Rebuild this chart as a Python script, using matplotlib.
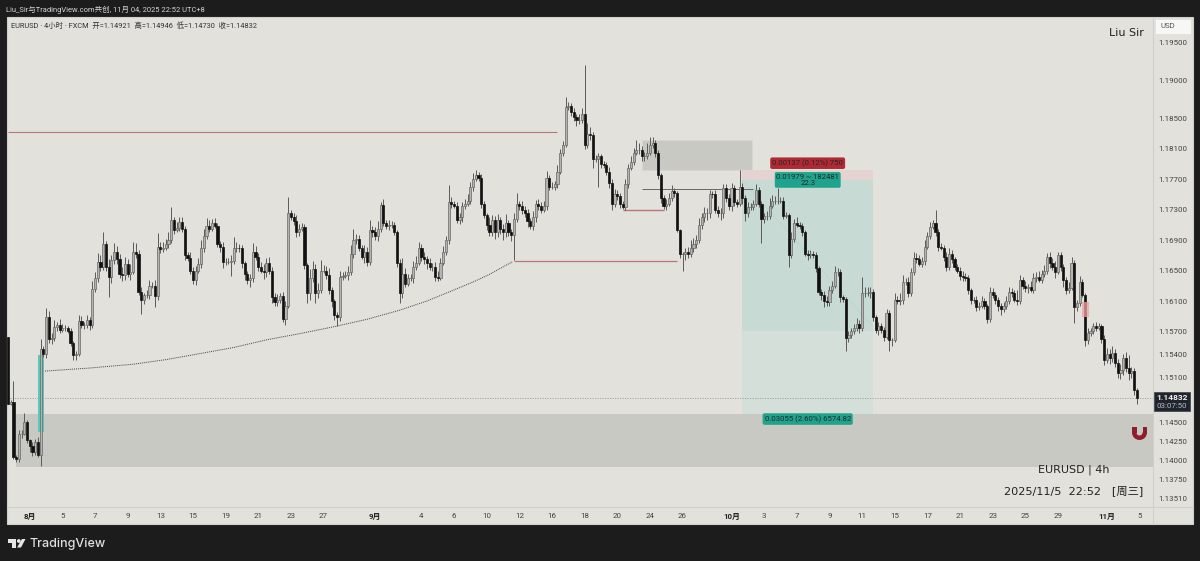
import numpy as np
import matplotlib
matplotlib.use("Agg")
import matplotlib.pyplot as plt
from matplotlib.patches import Rectangle, Polygon, Circle, Wedge
from matplotlib.transforms import IdentityTransform

plt.rcParams['font.family'] = ['Roboto', 'Noto Sans CJK SC', 'DejaVu Sans']

# 4h candles, prices in units of 0.0001
first_open = 11563
closes = [
    11475, 11478, 11405, 11402, 11435, 11436, 11451, 11427, 11420, 11412, 11425, 11408, 11547, 11541, 11589, 11560, 11562, 11576, 11578, 11572,
    11574, 11574, 11571, 11555, 11539, 11541, 11584, 11578, 11578, 11585, 11578, 11626, 11640, 11661, 11655, 11685, 11655, 11641, 11664, 11674,
    11665, 11645, 11644, 11659, 11645, 11648, 11674, 11672, 11622, 11611, 11618, 11618, 11630, 11630, 11617, 11681, 11678, 11680, 11685, 11690,
    11716, 11703, 11706, 11714, 11705, 11670, 11667, 11650, 11637, 11650, 11658, 11680, 11695, 11709, 11705, 11712, 11709, 11685, 11681, 11661,
    11661, 11661, 11662, 11679, 11680, 11679, 11660, 11645, 11638, 11640, 11674, 11668, 11655, 11650, 11648, 11660, 11650, 11615, 11609, 11612,
    11617, 11587, 11604, 11725, 11720, 11715, 11700, 11705, 11707, 11657, 11620, 11640, 11652, 11620, 11625, 11650, 11650, 11644, 11625, 11610,
    11591, 11589, 11641, 11643, 11644, 11648, 11672, 11690, 11692, 11680, 11668, 11675, 11661, 11703, 11700, 11695, 11705, 11736, 11712, 11708,
    11710, 11710, 11700, 11660, 11620, 11646, 11633, 11640, 11640, 11655, 11660, 11680, 11668, 11665, 11660, 11655, 11655, 11642, 11640, 11660,
    11675, 11690, 11740, 11738, 11735, 11716, 11720, 11735, 11738, 11742, 11760, 11770, 11775, 11772, 11738, 11723, 11710, 11701, 11716, 11700,
    11716, 11705, 11700, 11712, 11700, 11697, 11718, 11738, 11735, 11730, 11725, 11715, 11708, 11720, 11737, 11735, 11730, 11735, 11771, 11760,
    11760, 11764, 11780, 11804, 11815, 11865, 11866, 11858, 11852, 11848, 11848, 11855, 11815, 11830, 11828, 11797, 11797, 11800, 11790, 11789,
    11780, 11765, 11738, 11750, 11748, 11738, 11734, 11764, 11785, 11792, 11805, 11808, 11808, 11800, 11800, 11805, 11815, 11817, 11805, 11775,
    11745, 11735, 11738, 11745, 11754, 11752, 11703, 11672, 11672, 11675, 11672, 11680, 11685, 11690, 11710, 11720, 11725, 11725, 11751, 11750,
    11730, 11725, 11725, 11758, 11745, 11735, 11758, 11740, 11738, 11760, 11745, 11725, 11733, 11733, 11738, 11756, 11738, 11718, 11722, 11722,
    11735, 11742, 11742, 11742, 11742, 11722, 11723, 11670, 11692, 11712, 11710, 11708, 11700, 11672, 11670, 11672, 11670, 11653, 11622, 11618,
    11610, 11609, 11625, 11630, 11648, 11648, 11615, 11613, 11561, 11566, 11570, 11574, 11580, 11574, 11620, 11620, 11620, 11622, 11589, 11572,
    11577, 11572, 11563, 11594, 11559, 11559, 11611, 11610, 11612, 11635, 11635, 11620, 11648, 11666, 11665, 11659, 11662, 11681, 11695, 11707,
    11712, 11700, 11681, 11680, 11668, 11655, 11672, 11665, 11655, 11650, 11643, 11642, 11640, 11624, 11612, 11611, 11602, 11604, 11610, 11603,
    11587, 11622, 11618, 11611, 11603, 11600, 11603, 11610, 11622, 11620, 11612, 11610, 11637, 11630, 11627, 11628, 11625, 11640, 11642, 11638,
    11645, 11650, 11668, 11660, 11655, 11648, 11670, 11655, 11638, 11625, 11627, 11660, 11602, 11607, 11635, 11618, 11559, 11568, 11570, 11577,
    11575, 11577, 11560, 11532, 11540, 11535, 11542, 11528, 11515, 11520, 11535, 11522, 11515, 11518, 11493, 11483,
]
upper_wicks = [
    0, 2, 27, 3, 6, 4, 12, 3, 2, 5, 4, 6, 13, 4, 12, 8, 6, 9, 5, 8,
    6, 4, 3, 4, 2, 3, 8, 6, 5, 7, 4, 10, 8, 12, 9, 16, 4, 10, 6, 12,
    8, 7, 10, 9, 6, 10, 14, 12, 5, 6, 3, 6, 8, 5, 7, 18, 6, 8, 7, 10,
    17, 5, 8, 6, 7, 3, 5, 7, 5, 6, 8, 10, 9, 10, 8, 6, 7, 3, 4, 6,
    5, 6, 8, 15, 7, 5, 4, 3, 5, 6, 12, 8, 5, 6, 9, 7, 8, 5, 6, 7,
    4, 5, 6, 21, 4, 5, 8, 6, 5, 4, 3, 12, 10, 6, 9, 14, 7, 6, 10, 4,
    3, 4, 8, 5, 6, 8, 12, 14, 6, 5, 4, 8, 6, 14, 6, 7, 10, 4, 8, 5,
    6, 5, 4, 3, 5, 20, 7, 6, 5, 8, 9, 8, 5, 7, 4, 6, 5, 6, 8, 6,
    7, 5, 22, 6, 4, 5, 6, 5, 6, 8, 6, 8, 7, 4, 5, 4, 3, 10, 7, 6,
    8, 5, 6, 12, 4, 5, 8, 14, 4, 6, 5, 6, 4, 8, 6, 7, 5, 6, 10, 5,
    6, 4, 8, 6, 5, 13, 6, 4, 5, 4, 7, 8, 65, 14, 8, 4, 5, 4, 3, 4,
    4, 6, 5, 7, 6, 4, 3, 6, 5, 8, 6, 13, 9, 5, 6, 12, 10, 8, 4, 3,
    3, 4, 6, 7, 8, 4, 3, 2, 3, 5, 6, 10, 8, 7, 9, 6, 8, 7, 5, 4,
    6, 5, 7, 6, 6, 5, 7, 5, 4, 22, 5, 4, 7, 6, 5, 8, 4, 3, 4, 6,
    10, 7, 6, 18, 5, 5, 4, 3, 8, 6, 8, 4, 5, 3, 5, 5, 4, 4, 3, 4,
    5, 6, 5, 6, 8, 5, 4, 3, 2, 4, 4, 6, 8, 5, 22, 9, 8, 6, 4, 3,
    5, 4, 4, 6, 4, 3, 10, 6, 8, 9, 5, 6, 5, 8, 7, 6, 6, 9, 6, 7,
    5, 18, 4, 5, 4, 6, 7, 5, 3, 4, 5, 6, 5, 4, 3, 3, 6, 5, 6, 4,
    3, 6, 5, 4, 4, 5, 6, 7, 6, 5, 4, 12, 7, 5, 6, 5, 8, 7, 6, 8,
    6, 7, 5, 6, 6, 8, 4, 4, 3, 4, 8, 8, 4, 5, 8, 4, 3, 6, 5, 4,
    5, 4, 3, 6, 8, 7, 9, 5, 6, 7, 5, 8, 17, 6, 4, 3,
]
lower_wicks = [
    0, 2, 3, 4, 3, 5, 2, 3, 8, 6, 4, 3, 14, 4, 6, 5, 6, 4, 5, 4,
    3, 4, 3, 4, 7, 6, 3, 4, 5, 4, 6, 3, 4, 5, 6, 4, 5, 26, 7, 6,
    6, 5, 8, 6, 4, 7, 3, 5, 4, 18, 5, 4, 5, 3, 15, 6, 5, 4, 3, 5,
    4, 5, 3, 4, 5, 6, 4, 5, 5, 6, 3, 4, 5, 3, 4, 3, 3, 4, 6, 7,
    4, 3, 18, 3, 5, 4, 6, 7, 6, 10, 5, 4, 5, 3, 9, 6, 5, 8, 6, 5,
    4, 5, 8, 3, 4, 5, 6, 4, 3, 5, 12, 8, 5, 12, 6, 4, 3, 5, 6, 8,
    6, 12, 5, 4, 3, 6, 4, 5, 5, 4, 3, 8, 5, 4, 6, 5, 6, 4, 3, 4,
    5, 4, 3, 5, 12, 6, 5, 3, 4, 6, 4, 3, 5, 6, 8, 4, 5, 6, 4, 3,
    3, 4, 5, 6, 3, 4, 5, 6, 4, 3, 4, 5, 3, 5, 6, 4, 7, 6, 5, 8,
    6, 7, 10, 6, 5, 8, 33, 4, 5, 6, 5, 8, 4, 5, 6, 5, 4, 3, 5, 4,
    3, 4, 5, 3, 4, 3, 4, 5, 6, 8, 5, 4, 5, 4, 6, 12, 5, 37, 5, 4,
    5, 6, 8, 4, 5, 6, 3, 4, 5, 3, 4, 3, 5, 6, 6, 4, 3, 4, 6, 5,
    6, 4, 5, 3, 4, 5, 3, 5, 22, 8, 6, 4, 5, 6, 4, 5, 6, 8, 6, 5,
    4, 5, 8, 6, 5, 6, 7, 5, 4, 3, 8, 10, 5, 4, 4, 3, 5, 32, 6, 5,
    4, 3, 5, 4, 3, 4, 3, 15, 4, 5, 3, 4, 5, 3, 6, 4, 3, 5, 4, 6,
    8, 6, 5, 4, 3, 5, 6, 4, 16, 5, 4, 3, 4, 6, 3, 5, 4, 6, 5, 4,
    6, 4, 5, 3, 14, 8, 3, 4, 5, 6, 4, 5, 3, 4, 5, 3, 4, 5, 3, 4,
    3, 4, 5, 3, 6, 5, 4, 5, 4, 3, 5, 6, 4, 5, 6, 3, 5, 4, 3, 4,
    6, 5, 4, 5, 6, 8, 5, 3, 4, 5, 3, 5, 4, 4, 5, 6, 3, 4, 5, 3,
    4, 3, 5, 6, 4, 8, 3, 5, 10, 6, 4, 3, 21, 5, 4, 3, 8, 6, 4, 3,
    4, 3, 5, 6, 4, 8, 5, 5, 6, 8, 7, 5, 9, 6, 7, 8,
]

price_ticks = [1.195, 1.19, 1.185, 1.181, 1.177, 1.173, 1.169, 1.165, 1.161, 1.157,
               1.154, 1.151, 1.145, 1.1425, 1.14, 1.1375, 1.1351]
date_ticks = [8, 20, 32, 44, 56, 68, 80, 92, 104, 116, 135, 152, 164, 176, 188, 200, 212, 224,
              236, 248, 266, 278, 290, 302, 314, 326, 338, 350, 362, 374, 386, 404, 416]
date_labels = ["8月", "5", "7", "9", "13", "15", "19", "21", "23", "27", "9月", "4", "6", "10", "12", "16",
               "18", "20", "24", "26", "10月", "3", "7", "9", "11", "15", "17", "21", "23", "25", "29", "11月", "5"]

# curved trend line under the lows (bar, price)
curve_bars = [13.6, 30, 46, 58, 70.6, 83, 95, 107, 119.5, 132, 144, 154, 163.6, 171, 177, 185.7]
curve_prices = [1.1518, 1.1522, 1.1527, 1.1533, 1.1541, 1.1549, 1.1559, 1.1567, 1.1576, 1.1586, 1.1598, 1.1610,
                1.1624, 1.1635, 1.1645, 1.1662]

PANE = "#e2e1dc"
DARK = "#1c1c1c"
W, H = 1200, 561

fig = plt.figure(figsize=(12, 5.61), dpi=100, facecolor=DARK)


def fx(x):
    return x / W


def fy(y):
    return 1 - y / H


def px_rect(x0, y0, x1, y1, **kw):
    fig.add_artist(Rectangle((fx(x0), fy(y1)), (x1 - x0) / W, (y1 - y0) / H, transform=fig.transFigure, **kw))


# pane background and scale borders
px_rect(6.5, 16.5, 1193, 524, facecolor=PANE, edgecolor="#cfcfca", lw=0.8, zorder=-5)

ax = fig.add_axes([fx(7), fy(507), (1153 - 7) / W, (507 - 17) / H])
ax.set_facecolor("none")
for s in ax.spines.values():
    s.set_visible(False)
ax.set_xlim(-0.37, 420.96)
ax.set_ylim(1.13395, 1.1983)

bars = np.arange(len(closes))
c = np.array(closes) / 1e4
o = np.array([first_open] + closes[:-1]) / 1e4
up = np.array(upper_wicks) / 1e4
lo = np.array(lower_wicks) / 1e4
top = np.maximum(o, c)
bot = np.minimum(o, c)
rising = c >= o

# zones and position tool, behind candles
ax.add_patch(Rectangle((3, 1.1392), 418, 0.0070, facecolor="#c9c9c4", edgecolor="none", zorder=1))
ax.add_patch(Rectangle((233, 1.1782), 40.5, 0.0039, facecolor="#c9c9c4", edgecolor="#d8d8d3", lw=0.5, zorder=1))
ax.add_patch(Rectangle((270, 1.1769), 48, 0.0013, facecolor="#e4d3d0", edgecolor="none", zorder=1))
ax.add_patch(Rectangle((270, 1.1570), 48, 0.0199, facecolor="#c7dad3", edgecolor="none", zorder=1))
ax.add_patch(Rectangle((270, 1.1462), 48, 0.0108, facecolor="#d3dfd8", edgecolor="none", zorder=1))
ax.plot([270, 318], [1.1768, 1.1576], color="#b8cfc8", lw=0.6, ls=(0, (2, 2)), zorder=1.5)

# level lines
ax.hlines(1.1832, 0, 202, color="#bb7478", lw=0.8, zorder=2)
ax.hlines(1.1662, 186, 246, color="#bb7478", lw=0.9, zorder=2)
ax.hlines(1.1729, 226, 241, color="#bb7478", lw=1.0, zorder=2)
ax.hlines(1.1757, 233, 274, color="#555555", lw=0.6, zorder=2)
ax.hlines(1.14832, -0.37, 420.96, color="#a0a09a", lw=0.6, ls=(0, (1.5, 1.5)), zorder=2)
ax.plot(curve_bars, curve_prices, color="#444444", lw=0.7, ls=(0, (1, 1)), zorder=2)

# highlight bars, candles show through them
ax.add_patch(Rectangle((11, 1.1438), 2.3, 0.0101, facecolor="#55c9ba", edgecolor="none", zorder=2.5))

# candles
ax.vlines(bars, bot - lo, top + up, color="#5a5a5a", lw=0.7, zorder=3)
ax.bar(bars[rising], (top - bot)[rising], bottom=bot[rising], width=0.8, facecolor="#b4b4af",
       edgecolor="#666666", linewidth=0.5, zorder=3.5)
ax.bar(bars[~rising], (top - bot)[~rising], bottom=bot[~rising], width=0.8, facecolor="#111111",
       edgecolor="#111111", linewidth=0.5, zorder=3.5)

ax.add_patch(Rectangle((395, 1.1589), 2.5, 0.0020, facecolor="#f0a0a0", alpha=0.75, edgecolor="none", zorder=4))

# position labels
lab = dict(ha="center", va="center", fontsize=5.6, zorder=6, color="#1c2b28")
ax.text(294, 1.1791, "0.00137 (0.12%) 750", bbox=dict(boxstyle="round,pad=0.25", fc="#b22833", ec="none"), **lab)
ax.text(294, 1.1769, "0.01979 ~ 182481\n22.3", bbox=dict(boxstyle="round,pad=0.25", fc="#1fa38c", ec="#e2e1dc", lw=0.5),
        linespacing=1.1, **lab)
ax.text(294, 1.1455, "0.03055 (2.60%) 6574.82", bbox=dict(boxstyle="round,pad=0.25", fc="#1fa38c", ec="none"), **lab)

# axes
ax.yaxis.tick_right()
ax.set_yticks(price_ticks, [f"{p:.5f}" for p in price_ticks])
ax.set_xticks(date_ticks, date_labels)
ax.tick_params(axis="y", length=0, pad=3.5, labelsize=5.7, labelcolor="#44443f")
ax.tick_params(axis="x", length=0, pad=4, labelsize=5.7, labelcolor="#44443f")
for t, name in zip(ax.get_xticklabels(), date_labels):
    if name.endswith("月"):
        t.set_fontweight("bold")
        t.set_color("#222222")

# scale separators
fig.add_artist(plt.Line2D([fx(7), fx(1193)], [fy(507), fy(507)], color="#d0d0cb", lw=0.8))
fig.add_artist(plt.Line2D([fx(1153), fx(1153)], [fy(17), fy(524)], color="#d0d0cb", lw=0.8))

# last price box and USD box
px_rect(1154, 392, 1190, 411, facecolor="#20242d", edgecolor="#3a3f4a", lw=0.5, zorder=8)
fig.text(fx(1172), fy(397), "1.14832", color="#f2f2f2", fontsize=6, ha="center", va="center", fontweight="bold", zorder=9)
fig.text(fx(1172), fy(405.5), "03:07:50", color="#b8bcc4", fontsize=5.7, ha="center", va="center", zorder=9)
px_rect(1156, 20, 1191, 34, facecolor="#f7f7f5", edgecolor="none", zorder=8)
fig.text(fx(1168), fy(26.5), "USD", color="#55554f", fontsize=5.7, ha="center", va="center", zorder=9)

# header and watermark texts
fig.text(fx(6), fy(9.5), "Liu_Sir与TradingView.com共创, 11月 04, 2025 22:52 UTC+8", color="#d6d6d6",
         fontsize=5.4, va="center")
fig.text(fx(11), fy(26.5), "EURUSD · 4小时 · FXCM  开=1.14921  高=1.14946  低=1.14730  收=1.14832", color="#333333",
         fontsize=5.3, va="center")
fig.text(fx(1144), fy(33), "Liu Sir", color="#222222", fontsize=8, ha="right", va="center", family="DejaVu Sans")
fig.text(fx(1109), fy(470), "EURUSD | 4h", color="#222222", fontsize=8, ha="right", va="center", family="DejaVu Sans")
fig.text(fx(1143), fy(491), "2025/11/5  22:52   [周三]", color="#222222", fontsize=8.1, ha="right", va="center",
         family=["DejaVu Sans", "Noto Sans CJK SC"])

# magnet icon
red = "#8f1d2c"
fig.add_artist(Wedge((1139.5, H - 432.5), 7.5, 180, 360, width=4.5, facecolor=red, edgecolor="none",
                     transform=IdentityTransform()))
px_rect(1132, 427, 1136.5, 433, facecolor=red, edgecolor="none")
px_rect(1142.5, 427, 1147, 433, facecolor=red, edgecolor="none")

# TradingView logo
lg = "#e6e6e6"
px_rect(8, 539, 16, 543, facecolor=lg, edgecolor="none")
px_rect(11.5, 539, 16, 547.5, facecolor=lg, edgecolor="none")
fig.add_artist(Circle((18.8, H - 541), 1.9, facecolor=lg, edgecolor="none", transform=IdentityTransform()))
fig.add_artist(Polygon([(fx(22), fy(539)), (fx(25.5), fy(539)), (fx(21), fy(547.5)), (fx(17), fy(547.5))],
                       transform=fig.transFigure, facecolor=lg, edgecolor="none"))
fig.text(fx(30), fy(543.5), "TradingView", color="#e0e0e0", fontsize=9, va="center", family="Inter", fontweight="medium")

fig.savefig("out.png", dpi=100, facecolor=fig.get_facecolor())
plt.close(fig)
